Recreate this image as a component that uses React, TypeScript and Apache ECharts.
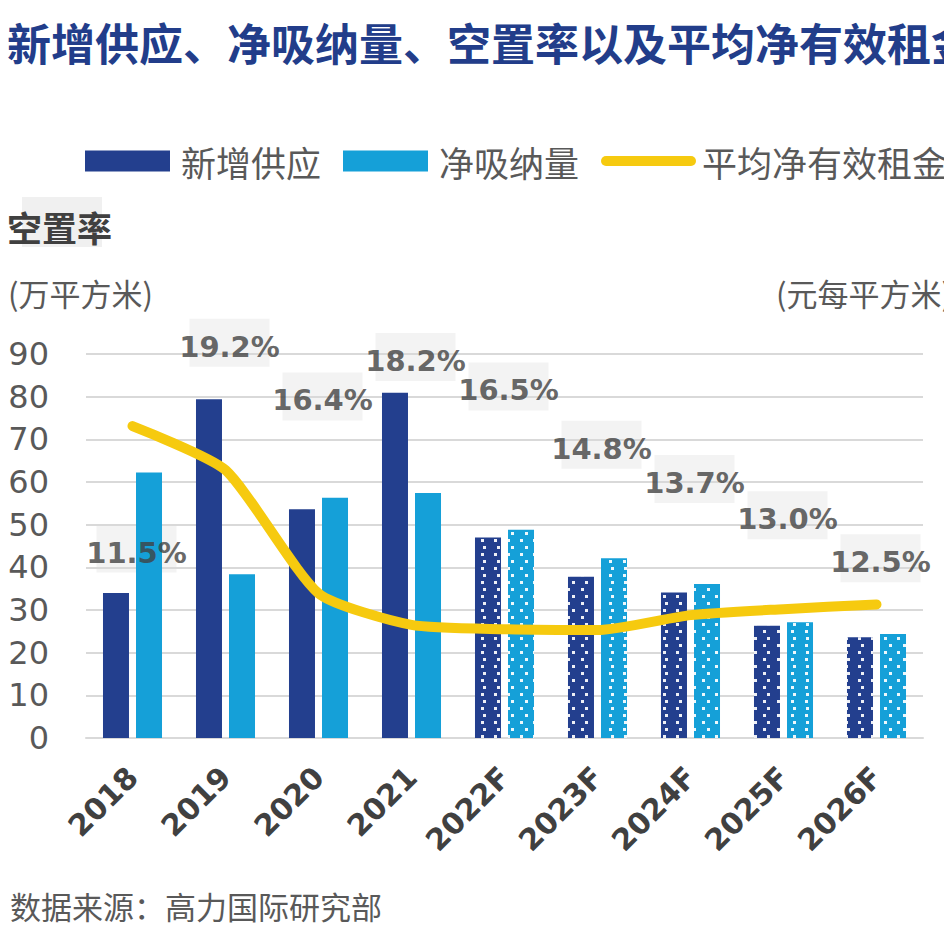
import React, { useEffect, useRef } from "react";
import * as echarts from "echarts";

const categories = ["2018", "2019", "2020", "2021", "2022F", "2023F", "2024F", "2025F", "2026F"];
const newSupply = [34.0, 79.4, 53.6, 80.9, 47.0, 37.8, 34.1, 26.3, 23.6];
const netAbsorption = [62.2, 38.4, 56.3, 57.4, 48.8, 42.1, 36.1, 27.1, 24.4];
const netEffectiveRent = [73.1, 62.8, 33.9, 26.5, 25.5, 25.3, 28.8, 30.2, 31.3];
const vacancyRate = [11.5, 19.2, 16.4, 18.2, 16.5, 14.8, 13.7, 13.0, 12.5];
const forecastFrom = 4;
// manual nudges of the vacancy-rate label boxes (px), as placed in the source chart
const labelShiftY = [-8, 19, -12, 3, -19, -12, -11, 4, 32];

const seriesNames = ["新增供应", "净吸纳量", "平均净有效租金"];
const titleText = "新增供应、净吸纳量、空置率以及平均净有效租金";
const vacancyTitle = "空置率";
const leftUnit = "(万平方米)";
const rightUnit = "(元每平方米)";
const sourceText = "数据来源：高力国际研究部";

const DARK = "#233f8e";
const LIGHT = "#15a0d8";
const YELLOW = "#f6ca0f";
const CJK = '"Noto Sans CJK SC", "Noto Sans", sans-serif';
const NUM = '"DejaVu Sans", sans-serif';

const dots = {
  symbol: "rect",
  symbolSize: 1,
  color: "rgba(255,255,255,0.92)",
  dashArrayX: [
    [3, 9.6],
    [0, 6.3, 3, 3.3],
  ],
  dashArrayY: [3, 3.6],
  rotation: 0,
};

function barData(values: number[]) {
  return values.map((v, i) =>
    i >= forecastFrom ? { value: v, itemStyle: { decal: dots } } : v
  );
}

export default function App() {
  const ref = useRef<HTMLDivElement>(null);
  useEffect(() => {
    document.body.style.margin = "0";
    const chart = echarts.init(ref.current!, null, { renderer: "svg" });
    const option: any = {
      animation: false,
      backgroundColor: "#ffffff",
      graphic: [
        {
          type: "text",
          x: 7,
          y: 42,
          style: {
            text: titleText,
            font: `bold 44px ${CJK}`,
            fill: "#223d8a",
            verticalAlign: "middle",
          },
        },
        {
          type: "rect",
          shape: { x: 22, y: 197, width: 80, height: 50 },
          style: { fill: "#f0f0f0" },
        },
        {
          type: "text",
          x: 7,
          y: 226,
          style: {
            text: vacancyTitle,
            font: `bold 35px ${CJK}`,
            fill: "#404040",
            verticalAlign: "middle",
          },
        },
        {
          type: "text",
          x: 8,
          y: 292,
          style: {
            text: leftUnit,
            font: `31px ${CJK}`,
            fill: "#595959",
            verticalAlign: "middle",
          },
        },
        {
          type: "text",
          x: 776,
          y: 292,
          style: {
            text: rightUnit,
            font: `31px ${CJK}`,
            fill: "#595959",
            verticalAlign: "middle",
          },
        },
        {
          type: "text",
          x: 10,
          y: 905,
          style: {
            text: sourceText,
            font: `31px ${CJK}`,
            fill: "#595959",
            verticalAlign: "middle",
          },
        },
      ],
      legend: {
        left: 85,
        top: 143,
        width: 1200,
        padding: 0,
        itemWidth: 85,
        itemHeight: 21,
        itemGap: 22,
        selectedMode: false,
        textStyle: {
          fontSize: 35,
          lineHeight: 36,
          color: "#595959",
          fontFamily: CJK,
          padding: [0, 0, 0, 6],
        },
        data: [
          { name: seriesNames[0], icon: "rect" },
          { name: seriesNames[1], icon: "rect" },
          {
            name: seriesNames[2],
            lineStyle: { width: 10, cap: "round" },
            itemStyle: { opacity: 0 },
          },
        ],
      },
      grid: { left: 86, right: 21, top: 354, bottom: 205, containLabel: false },
      xAxis: {
        type: "category",
        data: categories,
        axisTick: { show: false },
        axisLine: { show: true, lineStyle: { color: "#d9d9d9", width: 2 } },
        axisLabel: {
          interval: 0,
          rotate: 45,
          margin: 34,
          fontSize: 30,
          fontWeight: "bold",
          color: "#404040",
          fontFamily: NUM,
        },
      },
      yAxis: [
        {
          type: "value",
          min: 0,
          max: 90,
          interval: 10,
          axisLine: { show: false },
          axisTick: { show: false },
          splitLine: { show: true, lineStyle: { color: "#d9d9d9", width: 2 } },
          axisLabel: {
            margin: 37,
            fontSize: 32,
            color: "#595959",
            fontFamily: NUM,
          },
        },
        {
          type: "value",
          position: "right",
          min: 0,
          max: 90,
          interval: 10,
          show: false,
        },
        {
          type: "value",
          min: 5.5,
          max: 18.2,
          show: false,
        },
      ],
      series: [
        {
          name: "空置率框",
          type: "scatter",
          yAxisIndex: 2,
          z: -1,
          silent: true,
          clip: false,
          symbol: "rect",
          symbolSize: [80, 48],
          itemStyle: { color: "#f0f0f0" },
          data: vacancyRate.map((v, i) => ({ value: v, symbolOffset: [4, labelShiftY[i]] })),
        },
        {
          name: seriesNames[0],
          type: "bar",
          barWidth: 26,
          barGap: "27%",
          itemStyle: { color: DARK },
          data: barData(newSupply),
        },
        {
          name: seriesNames[1],
          type: "bar",
          barWidth: 26,
          itemStyle: { color: LIGHT },
          data: barData(netAbsorption),
        },
        {
          name: seriesNames[2],
          type: "line",
          yAxisIndex: 1,
          smooth: 0.2,
          symbol: "none",
          z: 5,
          lineStyle: { color: YELLOW, width: 10, cap: "round", join: "round" },
          itemStyle: { color: YELLOW },
          data: netEffectiveRent,
        },
        {
          name: "空置率",
          type: "scatter",
          yAxisIndex: 2,
          z: 10,
          silent: true,
          clip: false,
          symbolSize: 1,
          itemStyle: { color: "rgba(0,0,0,0)" },
          label: {
            show: true,
            position: "inside",
            fontSize: 29,
            fontWeight: "bold",
            color: "#404040",
            fontFamily: NUM,
            formatter: (p: any) => vacancyRate[p.dataIndex].toFixed(1) + "%",
          },
          data: vacancyRate.map((v, i) => ({
            value: v,
            label: { offset: [4, labelShiftY[i] + 4] },
          })),
        },
      ],
    };
    chart.setOption(option);
    return () => chart.dispose();
  }, []);
  return <div ref={ref} style={{ width: 944, height: 943 }} />;
}
